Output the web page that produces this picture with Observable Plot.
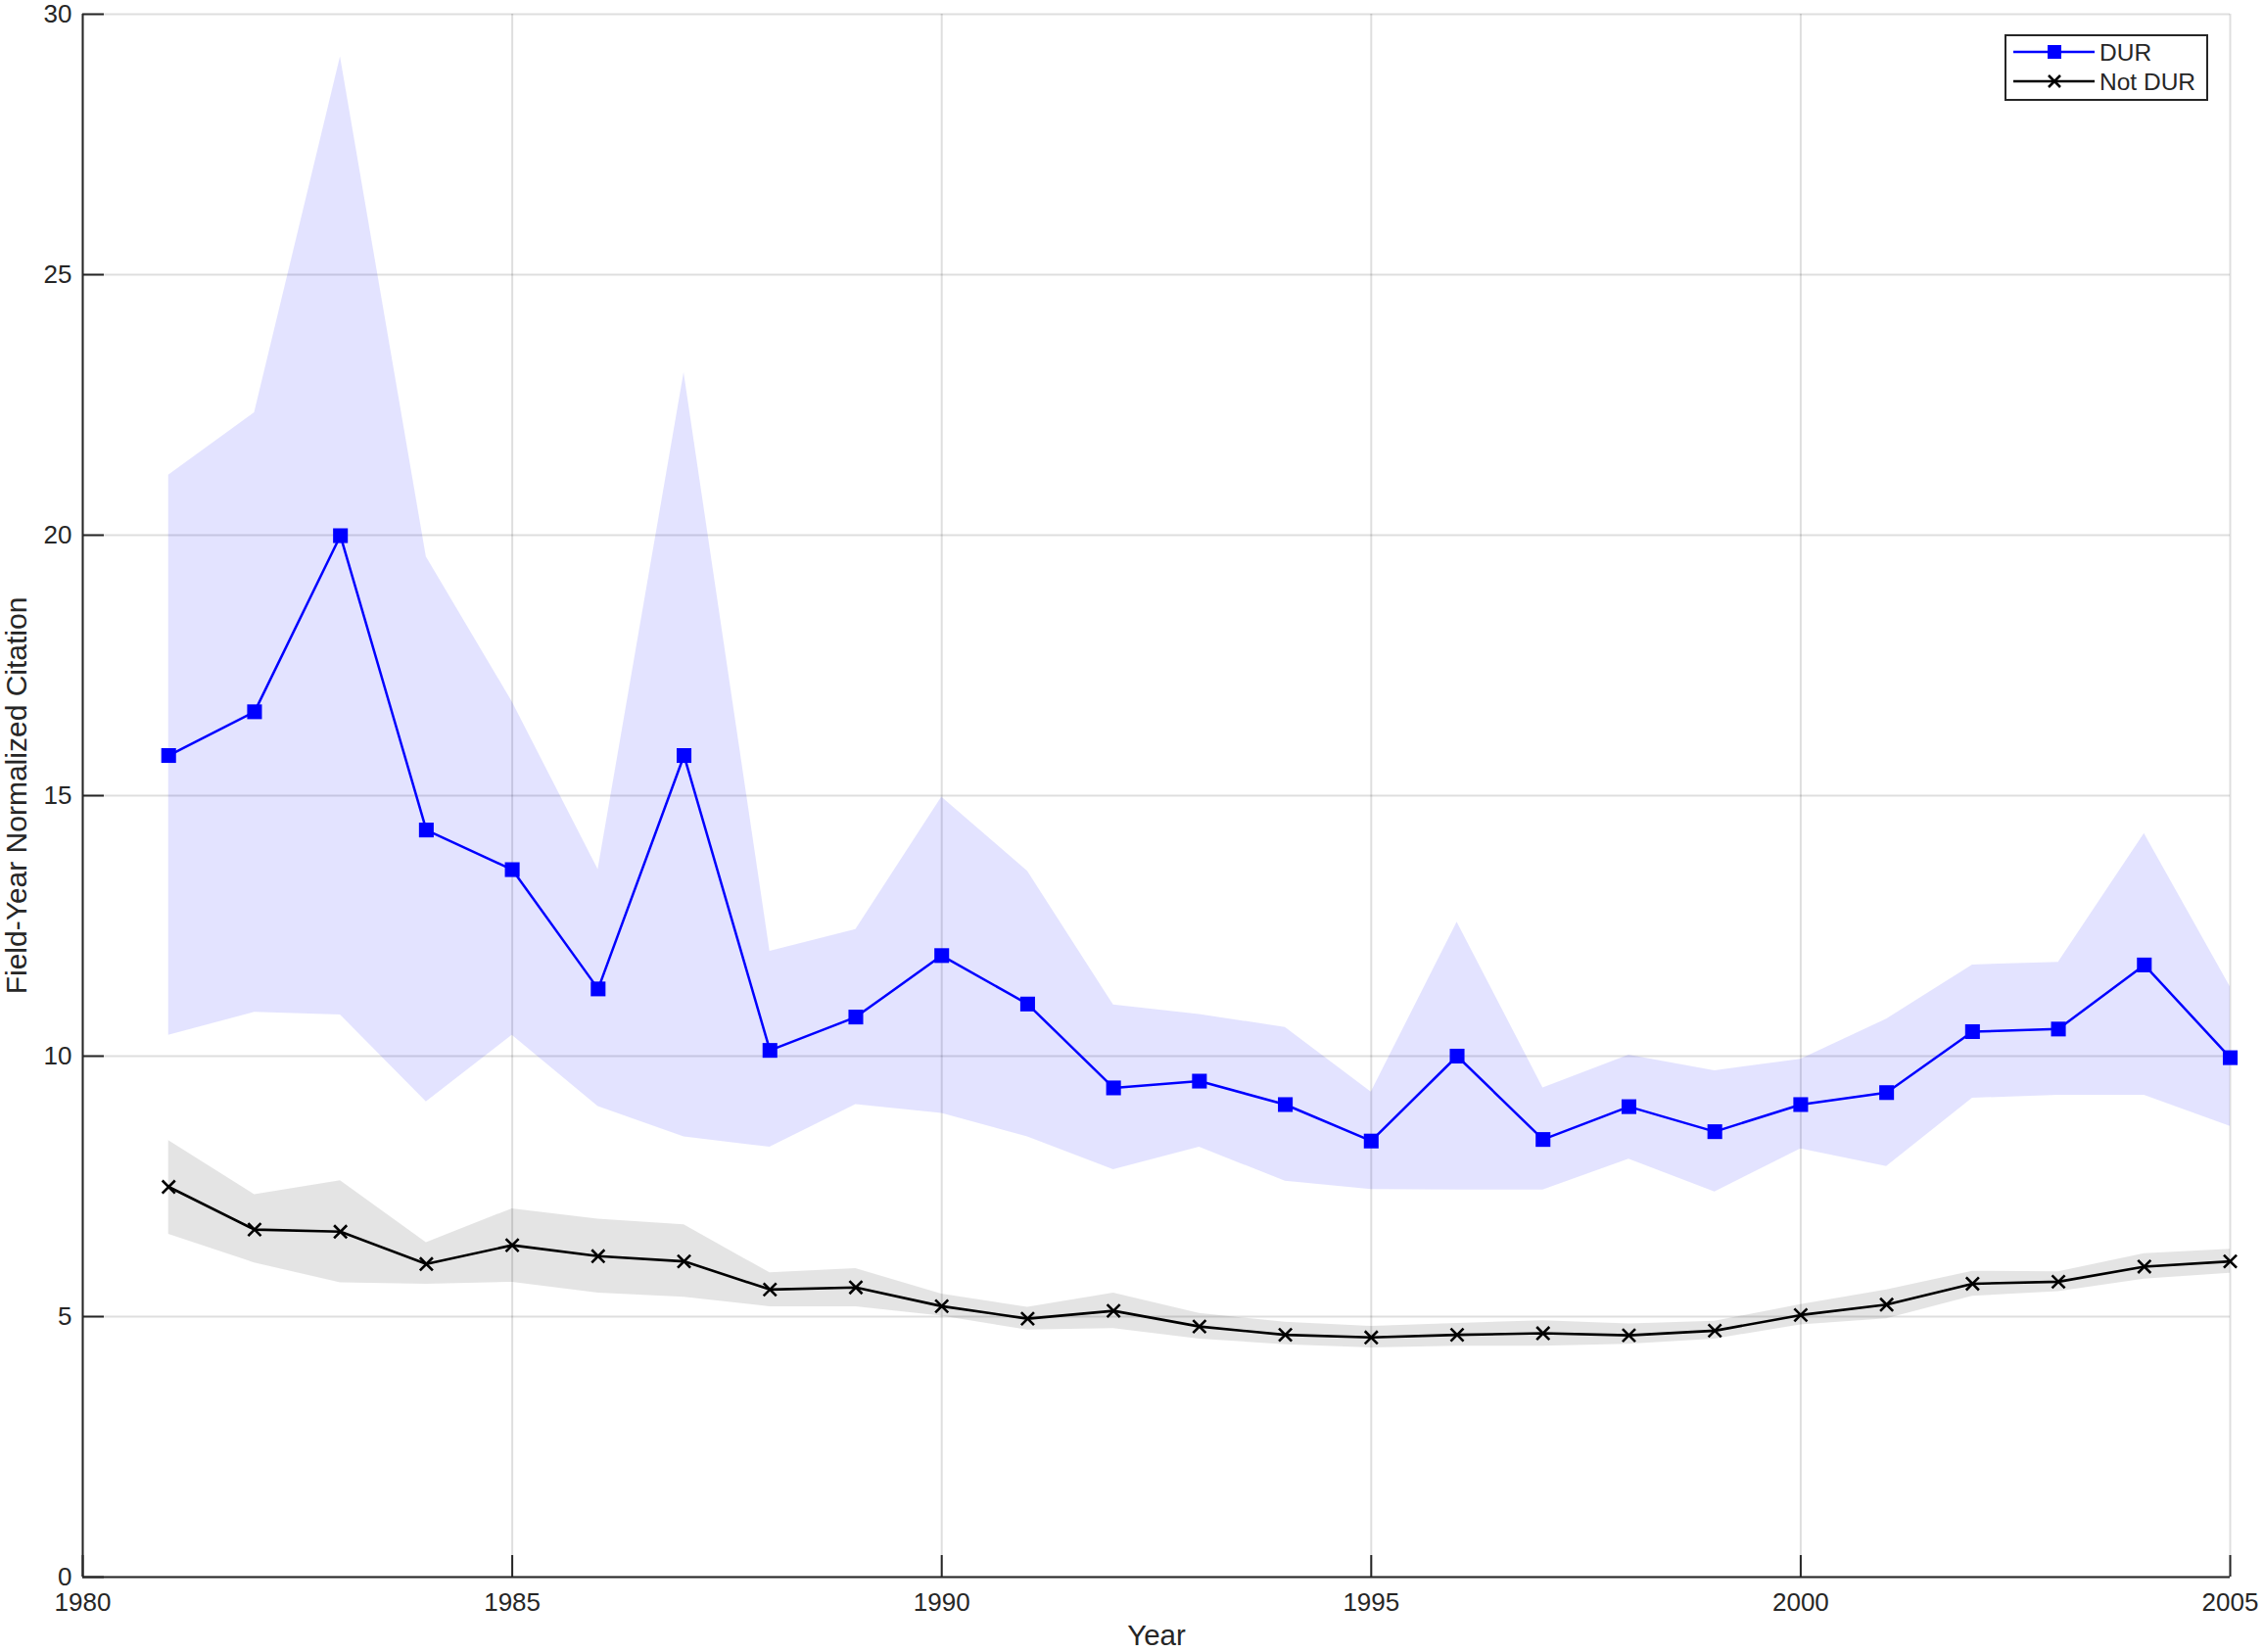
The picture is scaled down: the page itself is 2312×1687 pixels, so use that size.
<!DOCTYPE html>
<html>
<head>
<meta charset="utf-8">
<script src="https://cdn.jsdelivr.net/npm/d3@7"></script>
<script src="https://cdn.jsdelivr.net/npm/@observablehq/plot@0.6"></script>
<style>
  html, body { margin: 0; padding: 0; background: #fff; }
  #wrap { position: relative; width: 2312px; height: 1687px; }
  #legend { position: absolute; left: 2047px; top: 35px; }
</style>
</head>
<body>
<div id="wrap"></div>
<script>
const years = [1981,1982,1983,1984,1985,1986,1987,1988,1989,1990,1991,1992,1993,1994,1995,1996,1997,1998,1999,2000,2001,2002,2003,2004,2005];

const durMean = [15.77,16.61,19.99,14.34,13.58,11.29,15.77,10.11,10.75,11.93,11.00,9.39,9.52,9.07,8.37,10.00,8.40,9.03,8.55,9.07,9.30,10.47,10.52,11.75,9.97];
const durHi   = [21.15,22.35,29.18,19.58,16.80,13.58,23.12,12.01,12.43,14.97,13.55,10.98,10.80,10.55,9.31,12.57,9.39,10.02,9.72,9.94,10.71,11.75,11.80,14.27,11.33];
const durLo   = [10.40,10.84,10.79,9.12,10.40,9.03,8.45,8.25,9.07,8.90,8.45,7.82,8.25,7.60,7.44,7.43,7.43,8.02,7.39,8.22,7.88,9.19,9.25,9.25,8.65];

const notMean = [7.49,6.67,6.63,6.01,6.37,6.16,6.06,5.52,5.56,5.20,4.96,5.11,4.81,4.65,4.60,4.65,4.68,4.64,4.73,5.03,5.23,5.63,5.67,5.96,6.06];
const notHi   = [8.38,7.34,7.61,6.42,7.07,6.87,6.76,5.84,5.92,5.43,5.18,5.45,5.06,4.89,4.81,4.87,4.92,4.86,4.91,5.23,5.51,5.87,5.86,6.21,6.29];
const notLo   = [6.58,6.03,5.65,5.62,5.66,5.45,5.37,5.19,5.19,5.01,4.74,4.77,4.57,4.46,4.40,4.43,4.43,4.47,4.57,4.84,4.96,5.39,5.48,5.72,5.83];

const xTicks = [1980,1985,1990,1995,2000,2005];
const yTicks = [0,5,10,15,20,25,30];
const seriesNames = ["DUR","Not DUR"];
const xLabel = "Year";
const yLabel = "Field-Year Normalized Citation";

const dur = years.map((y,i) => ({year: y, mean: durMean[i], hi: durHi[i], lo: durLo[i]}));
const notDur = years.map((y,i) => ({year: y, mean: notMean[i], hi: notHi[i], lo: notLo[i]}));

const axisColor = "#262626";

const chart = Plot.plot({
  width: 2312,
  height: 1687,
  marginLeft: 84,
  marginRight: 35,
  marginTop: 14,
  marginBottom: 77,
  style: {fontFamily: "'Liberation Sans', Arial, Helvetica, sans-serif", fontSize: "26px", color: axisColor, background: "#fff"},
  x: {domain: [1980, 2005]},
  y: {domain: [0, 30]},
  marks: [
    Plot.gridX(xTicks, {stroke: "#000", strokeOpacity: 0.13, strokeWidth: 2}),
    Plot.gridY(yTicks, {stroke: "#000", strokeOpacity: 0.13, strokeWidth: 2}),
    Plot.areaY(dur, {x: "year", y1: "lo", y2: "hi", fill: "#0000ff", fillOpacity: 0.11}),
    Plot.areaY(notDur, {x: "year", y1: "lo", y2: "hi", fill: "#000", fillOpacity: 0.105}),
    Plot.ruleY([0], {stroke: axisColor, strokeWidth: 2}),
    Plot.ruleX([1980], {stroke: axisColor, strokeWidth: 2}),
    Plot.axisX(xTicks, {tickSize: -22, tickPadding: 38, tickFormat: d => String(d), label: null, color: axisColor, strokeWidth: 2}),
    Plot.axisY(yTicks, {tickSize: -22, tickPadding: 33, tickFormat: d => String(d), label: null, color: axisColor, strokeWidth: 2}),
    Plot.text([xLabel], {frameAnchor: "bottom", dy: 60, lineAnchor: "middle", textAnchor: "middle", fontSize: 29.5, fill: axisColor}),
    Plot.text([yLabel], {frameAnchor: "left", dx: -67, rotate: -90, lineAnchor: "middle", textAnchor: "middle", fontSize: 30, fill: axisColor}),
    Plot.lineY(dur, {x: "year", y: "mean", stroke: "#0000ff", strokeWidth: 2.5}),
    Plot.dot(dur, {x: "year", y: "mean", symbol: "square", fill: "#0000ff", r: 8.5}),
    Plot.lineY(notDur, {x: "year", y: "mean", stroke: "#000", strokeWidth: 2.6}),
    Plot.dot(notDur, {x: "year", y: "mean", symbol: "times", stroke: "#000", strokeWidth: 2.6, r: 6})
  ]
});

const wrap = document.getElementById("wrap");
wrap.appendChild(chart);

// Legend (inside the axes, top right)
const NS = "http://www.w3.org/2000/svg";
const leg = document.createElementNS(NS, "svg");
leg.setAttribute("id", "legend");
leg.setAttribute("width", 208);
leg.setAttribute("height", 68);
leg.setAttribute("font-family", "'Liberation Sans', Arial, Helvetica, sans-serif");
leg.innerHTML = `
  <rect x="1" y="1" width="206" height="66" fill="#fff" stroke="${axisColor}" stroke-width="2"/>
  <line x1="9" x2="92" y1="18" y2="18" stroke="#0000ff" stroke-width="2.5"/>
  <rect x="44" y="11" width="14" height="14" fill="#0000ff"/>
  <text x="97" y="18" dy="0.35em" font-size="24.5" fill="${axisColor}">${seriesNames[0]}</text>
  <line x1="9" x2="92" y1="48" y2="48" stroke="#000" stroke-width="2.6"/>
  <path d="M45,42L57,54M45,54L57,42" stroke="#000" stroke-width="2.6"/>
  <text x="97" y="48" dy="0.35em" font-size="24.5" fill="${axisColor}">${seriesNames[1]}</text>
`;
wrap.appendChild(leg);
</script>
</body>
</html>
